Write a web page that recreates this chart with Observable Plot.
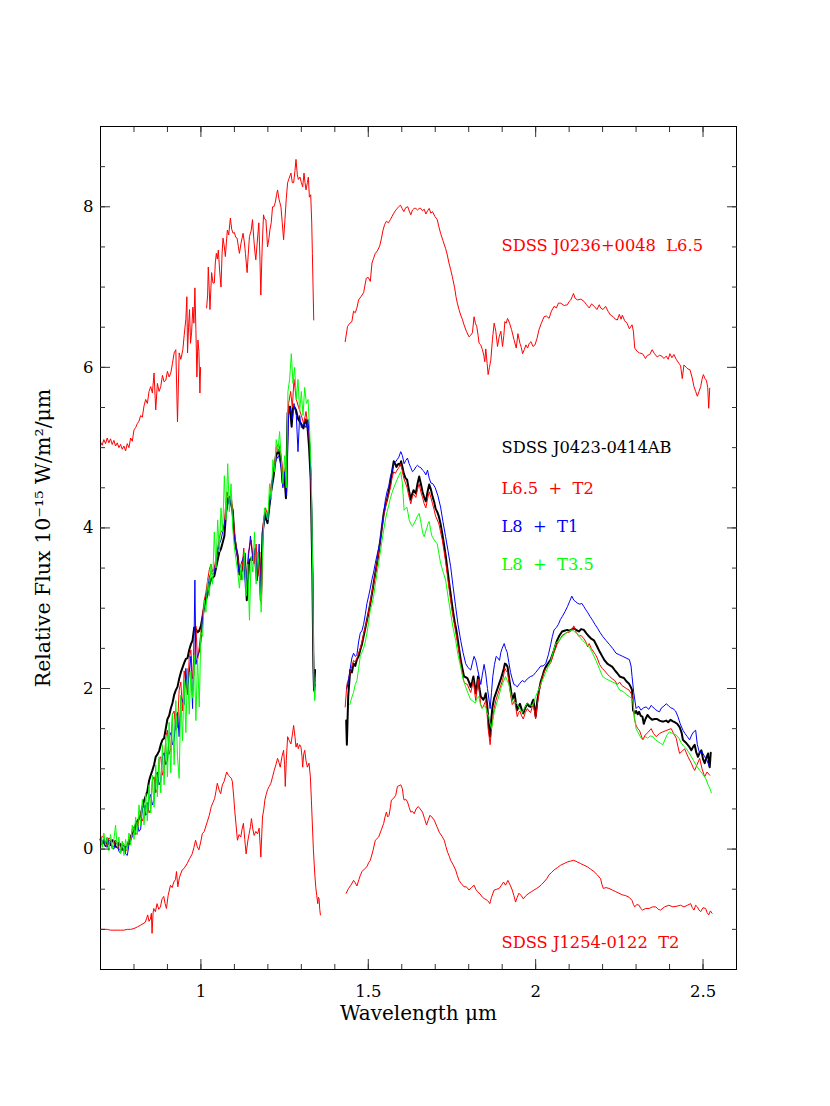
<!DOCTYPE html>
<html>
<head>
<meta charset="utf-8">
<script src="https://cdn.jsdelivr.net/npm/d3@7"></script>
<script src="https://cdn.jsdelivr.net/npm/@observablehq/plot@0.6"></script>
<style>
  html, body { margin: 0; padding: 0; background: #fff; }
  #chart { width: 830px; height: 1106px; }
</style>
</head>
<body>
<div id="chart"></div>
<script>
// ---- tick values ----
const xLabelTicks = [1, 1.5, 2, 2.5];
const xMinorTicks = [0.8, 0.9, 1.0, 1.1, 1.2, 1.3, 1.4, 1.5, 1.6, 1.7, 1.8, 1.9, 2.0, 2.1, 2.2, 2.3, 2.4, 2.5];
const yLabelTicks = [0, 2, 4, 6, 8];
const yMinorTicks = [-1, -0.5, 0, 0.5, 1, 1.5, 2, 2.5, 3, 3.5, 4, 4.5, 5, 5.5, 6, 6.5, 7, 7.5, 8, 8.5];

// ---- SDSS J0236+0048 L6.5 (offset spectrum, top) ----
const j0236_a = [[0.700,5.07],[0.705,5.03],[0.71,5.10],[0.715,5.05],[0.72,5.12],[0.725,5.06],[0.73,5.11],[0.735,5.04],[0.74,5.09],[0.745,5.02],[0.75,5.06],[0.755,5.00],[0.76,5.04],[0.765,4.98],[0.77,5.02],[0.775,4.96],[0.78,5.05],[0.785,5.00],[0.79,5.12],[0.795,5.08],[0.80,5.22],[0.805,5.25],[0.81,5.30],[0.815,5.33],[0.82,5.40],[0.825,5.38],[0.83,5.52],[0.835,5.60],[0.84,5.55],[0.845,5.70],[0.85,5.76],[0.855,5.68],[0.86,5.93],[0.865,5.47],[0.87,5.80],[0.875,5.70],[0.88,5.76],[0.885,5.90],[0.89,5.82],[0.895,5.84],[0.90,5.95],[0.905,5.88],[0.91,5.93],[0.915,6.05],[0.92,6.18],[0.925,6.22],[0.93,5.32],[0.935,6.18],[0.94,6.10],[0.946,6.22],[0.95,6.40],[0.955,6.60],[0.958,6.88],[0.96,6.18],[0.963,6.50],[0.966,6.72],[0.969,6.30],[0.972,6.43],[0.976,6.75],[0.979,6.55],[0.982,6.99],[0.985,6.47],[0.988,5.88],[0.991,6.34],[0.994,6.20],[0.997,5.68],[0.999,6.0]];
const j0236_b = [[1.017,6.74],[1.020,6.90],[1.022,7.25],[1.025,6.95],[1.027,6.72],[1.030,7.00],[1.032,7.18],[1.036,7.05],[1.040,7.05],[1.043,7.30],[1.046,7.42],[1.049,7.35],[1.052,7.46],[1.056,7.20],[1.060,7.00],[1.063,7.40],[1.066,7.61],[1.070,7.50],[1.073,7.38],[1.076,7.55],[1.079,7.71],[1.083,7.65],[1.088,7.86],[1.092,7.72],[1.096,7.67],[1.100,7.68],[1.104,7.62],[1.108,7.61],[1.112,7.50],[1.115,7.42],[1.120,7.55],[1.126,7.67],[1.130,7.55],[1.133,7.42],[1.138,7.18],[1.142,7.45],[1.145,7.63],[1.150,7.70],[1.154,7.84],[1.158,7.60],[1.161,7.45],[1.164,7.34],[1.168,7.55],[1.173,7.80],[1.176,7.40],[1.179,6.90],[1.183,7.50],[1.187,7.90],[1.190,7.85],[1.194,7.84],[1.197,7.65],[1.199,7.50],[1.203,7.60],[1.206,7.71],[1.210,7.80],[1.214,8.00],[1.218,8.00],[1.222,8.05],[1.226,8.15],[1.229,8.21],[1.233,8.10],[1.236,8.05],[1.239,8.00],[1.243,7.80],[1.247,7.59],[1.251,7.84],[1.255,8.10],[1.259,8.30],[1.263,8.35],[1.269,8.42],[1.273,8.30],[1.277,8.30],[1.281,8.45],[1.284,8.59],[1.288,8.40],[1.291,8.34],[1.296,8.37],[1.300,8.30],[1.304,8.25],[1.308,8.42],[1.311,8.30],[1.314,8.21],[1.318,8.30],[1.321,8.37],[1.324,8.12],[1.328,8.15],[1.331,7.80],[1.333,7.42],[1.335,7.00],[1.337,6.59]];
const j0236_c = [[1.431,6.32],[1.438,6.51],[1.445,6.55],[1.451,6.57],[1.456,6.70],[1.461,6.68],[1.466,6.74],[1.471,6.84],[1.478,6.88],[1.486,6.93],[1.494,7.11],[1.500,7.12],[1.506,7.07],[1.511,7.30],[1.516,7.36],[1.521,7.42],[1.527,7.45],[1.534,7.51],[1.539,7.60],[1.544,7.71],[1.549,7.78],[1.554,7.82],[1.560,7.80],[1.566,7.84],[1.571,7.88],[1.576,7.92],[1.581,7.95],[1.586,7.98],[1.591,8.00],[1.596,8.02],[1.601,7.98],[1.606,7.94],[1.612,7.99],[1.618,8.00],[1.622,7.95],[1.627,7.90],[1.632,7.96],[1.637,7.98],[1.642,7.98],[1.647,7.96],[1.652,7.98],[1.657,7.98],[1.662,7.95],[1.667,7.97],[1.672,7.91],[1.677,7.95],[1.682,7.98],[1.687,7.92],[1.692,7.94],[1.699,7.88],[1.706,7.84],[1.711,7.75],[1.716,7.67],[1.723,7.58],[1.731,7.48],[1.736,7.40],[1.741,7.30],[1.746,7.22],[1.751,7.13],[1.758,6.99],[1.762,6.88],[1.766,6.80],[1.771,6.72],[1.776,6.65],[1.781,6.60],[1.786,6.53],[1.793,6.45],[1.801,6.38],[1.806,6.40],[1.811,6.43],[1.816,6.63],[1.820,6.55],[1.824,6.51],[1.828,6.40],[1.831,6.30],[1.836,6.28],[1.841,6.22],[1.845,6.15],[1.848,6.07],[1.851,6.23],[1.855,6.05],[1.858,5.91],[1.862,6.00],[1.866,6.09],[1.871,6.35],[1.876,6.55],[1.881,6.45],[1.886,6.26],[1.891,6.38],[1.896,6.45],[1.901,6.26],[1.905,6.40],[1.908,6.57],[1.912,6.55],[1.916,6.61],[1.922,6.55],[1.928,6.47],[1.935,6.35],[1.942,6.24],[1.947,6.42],[1.953,6.30],[1.957,6.25],[1.961,6.17],[1.966,6.22],[1.971,6.28],[1.976,6.24],[1.981,6.30],[1.986,6.32],[1.992,6.26],[1.998,6.28],[2.004,6.36],[2.010,6.47],[2.017,6.55],[2.025,6.63],[2.032,6.64],[2.040,6.61],[2.047,6.70],[2.055,6.76],[2.062,6.74],[2.068,6.80],[2.075,6.80],[2.085,6.77],[2.095,6.78],[2.100,6.82],[2.105,6.84],[2.109,6.88],[2.113,6.92],[2.118,6.86],[2.125,6.84],[2.135,6.85],[2.145,6.82],[2.152,6.78],[2.160,6.74],[2.167,6.79],[2.175,6.76],[2.183,6.72],[2.190,6.78],[2.194,6.74],[2.201,6.72],[2.209,6.76],[2.216,6.70],[2.224,6.65],[2.232,6.63],[2.238,6.60],[2.244,6.59],[2.250,6.66],[2.255,6.60],[2.259,6.65],[2.266,6.58],[2.273,6.55],[2.280,6.48],[2.288,6.53],[2.292,6.45],[2.296,6.24],[2.303,6.20],[2.310,6.18],[2.319,6.17],[2.324,6.14],[2.328,6.11],[2.334,6.15],[2.341,6.16],[2.348,6.22],[2.355,6.17],[2.363,6.13],[2.370,6.15],[2.377,6.14],[2.383,6.11],[2.390,6.14],[2.396,6.10],[2.401,6.17],[2.407,6.12],[2.413,6.16],[2.420,6.10],[2.428,6.05],[2.433,6.02],[2.438,5.86],[2.443,6.03],[2.450,6.00],[2.455,5.98],[2.461,5.97],[2.467,5.88],[2.473,5.76],[2.478,5.70],[2.483,5.64],[2.488,5.70],[2.493,5.76],[2.497,5.85],[2.501,5.91],[2.506,5.86],[2.510,5.84],[2.514,5.75],[2.517,5.49],[2.520,5.74]];

// ---- SDSS J0423-0414AB (black) ----
const j0423_a = [[0.700,0.12],[0.705,0.06],[0.71,0.10],[0.715,0.04],[0.72,0.13],[0.725,0.07],[0.73,0.05],[0.735,0.11],[0.74,0.10],[0.745,0.03],[0.75,0.02],[0.755,0.08],[0.76,0.05],[0.765,0.00],[0.77,-0.02],[0.775,0.03],[0.78,0.04],[0.785,0.10],[0.79,0.15],[0.795,0.20],[0.80,0.22],[0.805,0.30],[0.81,0.35],[0.815,0.38],[0.82,0.42],[0.825,0.52],[0.83,0.60],[0.835,0.66],[0.84,0.72],[0.845,0.85],[0.85,0.92],[0.855,0.98],[0.86,1.05],[0.865,1.15],[0.87,1.18],[0.875,1.22],[0.88,1.30],[0.885,1.36],[0.89,1.38],[0.895,1.50],[0.90,1.62],[0.905,1.66],[0.91,1.75],[0.915,1.82],[0.92,1.92],[0.925,1.98],[0.93,2.02],[0.935,2.12],[0.94,2.20],[0.945,2.26],[0.95,2.32],[0.955,2.37],[0.96,2.38],[0.965,2.48],[0.97,2.55],[0.975,2.60],[0.98,2.76],[0.985,2.74],[0.99,2.70],[0.995,2.72],[1.00,2.78],[1.005,2.90],[1.01,3.02],[1.015,3.10],[1.02,3.18],[1.025,3.28],[1.03,3.36],[1.035,3.38],[1.04,3.40],[1.045,3.50],[1.05,3.60],[1.055,3.70],[1.06,3.74],[1.065,3.82],[1.07,3.90],[1.075,4.18],[1.081,4.37],[1.085,4.33],[1.09,4.30],[1.095,4.22],[1.10,3.90],[1.105,3.75],[1.11,3.65],[1.115,3.42],[1.12,3.45],[1.124,3.48],[1.131,3.68],[1.137,3.10],[1.144,3.58],[1.149,3.62],[1.154,3.60],[1.161,3.68],[1.167,3.35],[1.174,3.64],[1.179,3.10],[1.184,3.93],[1.191,4.16],[1.199,4.06],[1.204,4.25],[1.209,4.43],[1.217,4.64],[1.224,4.89],[1.231,4.97],[1.239,4.85],[1.244,4.56],[1.249,4.68],[1.254,4.37],[1.259,5.43],[1.266,5.51],[1.271,5.26],[1.275,5.51],[1.280,5.50],[1.284,5.47],[1.291,5.35],[1.299,5.30],[1.306,5.24],[1.313,5.35],[1.318,5.28],[1.323,5.01],[1.328,4.60],[1.333,3.43],[1.336,2.27],[1.338,1.98],[1.341,2.23]];
const j0423_b = [[1.434,1.60],[1.436,1.30],[1.440,1.90],[1.446,2.23],[1.451,2.20],[1.456,2.31],[1.461,2.28],[1.466,2.36],[1.471,2.40],[1.476,2.48],[1.481,2.55],[1.486,2.65],[1.491,2.75],[1.496,2.85],[1.501,2.95],[1.506,3.06],[1.511,3.18],[1.516,3.31],[1.521,3.44],[1.526,3.56],[1.531,3.70],[1.536,3.85],[1.541,4.02],[1.546,4.18],[1.551,4.28],[1.556,4.35],[1.561,4.45],[1.566,4.56],[1.571,4.70],[1.576,4.83],[1.580,4.80],[1.584,4.76],[1.588,4.79],[1.591,4.80],[1.595,4.78],[1.598,4.83],[1.602,4.76],[1.606,4.68],[1.611,4.62],[1.616,4.60],[1.621,4.48],[1.627,4.35],[1.631,4.42],[1.635,4.47],[1.642,4.43],[1.647,4.55],[1.652,4.64],[1.657,4.55],[1.662,4.45],[1.667,4.38],[1.672,4.33],[1.677,4.45],[1.682,4.54],[1.687,4.48],[1.692,4.39],[1.697,4.32],[1.701,4.24],[1.706,4.20],[1.711,4.14],[1.716,4.05],[1.721,3.93],[1.726,3.80],[1.731,3.66],[1.736,3.50],[1.741,3.33],[1.746,3.18],[1.751,3.02],[1.758,2.83],[1.762,2.75],[1.766,2.65],[1.771,2.50],[1.776,2.36],[1.781,2.25],[1.786,2.15],[1.791,2.14],[1.796,2.13],[1.801,2.08],[1.806,2.02],[1.810,2.08],[1.814,2.15],[1.818,2.04],[1.821,1.94],[1.825,2.05],[1.828,2.15],[1.832,2.00],[1.836,1.90],[1.840,1.88],[1.844,1.86],[1.848,1.90],[1.851,1.94],[1.855,1.80],[1.858,1.65],[1.861,1.50],[1.864,1.40],[1.867,1.60],[1.871,1.77],[1.876,1.88],[1.881,1.94],[1.886,2.00],[1.891,2.06],[1.896,2.12],[1.901,2.19],[1.905,2.25],[1.908,2.31],[1.912,2.30],[1.916,2.27],[1.920,2.15],[1.923,2.06],[1.927,1.95],[1.930,1.86],[1.934,1.90],[1.937,1.94],[1.941,1.82],[1.945,1.73],[1.949,1.78],[1.953,1.81],[1.958,1.74],[1.963,1.69],[1.969,1.76],[1.975,1.81],[1.980,1.78],[1.985,1.77],[1.989,1.82],[1.993,1.86],[1.997,1.75],[2.000,1.65],[2.005,1.85],[2.010,1.98],[2.015,2.08],[2.020,2.15],[2.025,2.22],[2.030,2.27],[2.038,2.32],[2.045,2.36],[2.050,2.42],[2.055,2.48],[2.060,2.55],[2.064,2.60],[2.071,2.66],[2.079,2.71],[2.086,2.72],[2.094,2.73],[2.100,2.72],[2.106,2.73],[2.110,2.74],[2.114,2.75],[2.121,2.73],[2.129,2.71],[2.136,2.74],[2.144,2.73],[2.151,2.69],[2.159,2.65],[2.166,2.62],[2.174,2.60],[2.179,2.56],[2.184,2.52],[2.191,2.46],[2.199,2.40],[2.206,2.35],[2.214,2.31],[2.221,2.29],[2.229,2.27],[2.236,2.23],[2.244,2.19],[2.251,2.15],[2.257,2.14],[2.264,2.13],[2.271,2.09],[2.279,2.06],[2.284,2.02],[2.288,1.98],[2.291,1.73],[2.296,1.69],[2.300,1.72],[2.305,1.68],[2.309,1.71],[2.314,1.66],[2.319,1.65],[2.323,1.56],[2.328,1.62],[2.334,1.67],[2.340,1.64],[2.348,1.61],[2.355,1.62],[2.363,1.62],[2.370,1.60],[2.377,1.59],[2.383,1.59],[2.390,1.60],[2.396,1.58],[2.403,1.61],[2.410,1.59],[2.416,1.58],[2.423,1.56],[2.430,1.52],[2.436,1.45],[2.440,1.36],[2.445,1.34],[2.450,1.32],[2.458,1.28],[2.465,1.23],[2.470,1.27],[2.475,1.30],[2.480,1.20],[2.485,1.15],[2.490,1.20],[2.495,1.23],[2.500,1.12],[2.505,1.07],[2.510,1.14],[2.515,1.19],[2.518,1.05],[2.520,1.02],[2.523,1.20]];

// ---- L6.5 + T2 composite (red) ----
const l65t2_a = [[0.700,0.10],[0.705,0.16],[0.71,0.15],[0.715,0.06],[0.72,0.05],[0.725,0.14],[0.73,0.12],[0.735,0.02],[0.74,0.03],[0.745,0.11],[0.75,0.08],[0.755,0.00],[0.76,-0.02],[0.765,0.08],[0.77,0.06],[0.775,-0.03],[0.78,0.00],[0.785,0.14],[0.79,0.12],[0.795,0.25],[0.80,0.28],[0.805,0.18],[0.81,0.20],[0.815,0.40],[0.82,0.45],[0.825,0.35],[0.83,0.40],[0.835,0.55],[0.84,0.58],[0.845,0.45],[0.85,0.50],[0.855,0.85],[0.86,0.90],[0.865,0.70],[0.87,0.75],[0.875,1.12],[0.88,1.15],[0.885,0.92],[0.89,1.00],[0.895,1.40],[0.90,1.48],[0.905,1.18],[0.91,1.25],[0.915,1.68],[0.92,1.72],[0.925,1.48],[0.93,1.52],[0.935,1.98],[0.94,2.08],[0.945,1.72],[0.95,2.22],[0.955,2.08],[0.96,1.92],[0.965,2.38],[0.97,2.48],[0.975,2.12],[0.98,2.18],[0.985,2.78],[0.99,2.35],[0.995,2.52],[1.00,2.70],[1.005,2.92],[1.01,3.10],[1.015,3.20],[1.02,3.35],[1.025,3.48],[1.03,3.55],[1.035,3.45],[1.04,3.50],[1.045,3.62],[1.05,3.75],[1.055,3.88],[1.06,3.95],[1.065,3.98],[1.07,4.05],[1.074,4.30],[1.078,4.45],[1.085,4.30],[1.092,4.35],[1.096,4.15],[1.10,3.95],[1.107,3.70],[1.113,3.55],[1.12,3.35],[1.128,3.75],[1.135,3.30],[1.142,3.70],[1.15,3.85],[1.158,3.55],[1.165,3.80],[1.17,3.40],[1.176,3.70],[1.181,3.05],[1.186,4.05],[1.193,4.25],[1.20,4.15],[1.21,4.55],[1.218,4.70],[1.225,5.00],[1.232,5.05],[1.24,4.90],[1.246,4.60],[1.252,4.75],[1.256,4.45],[1.262,5.55],[1.268,5.70],[1.273,5.50],[1.278,5.85],[1.285,5.60],[1.292,5.50],[1.30,5.40],[1.307,5.30],[1.314,5.45],[1.32,5.25],[1.325,5.05],[1.33,4.40],[1.334,3.30],[1.337,2.20],[1.339,1.95],[1.341,2.10]];
const l65t2_b = [[1.431,1.77],[1.436,2.05],[1.441,2.12],[1.446,2.20],[1.451,2.28],[1.456,2.35],[1.461,2.33],[1.466,2.38],[1.471,2.44],[1.476,2.50],[1.481,2.58],[1.486,2.68],[1.491,2.76],[1.496,2.85],[1.501,2.96],[1.506,3.08],[1.511,3.20],[1.516,3.30],[1.521,3.42],[1.526,3.55],[1.531,3.70],[1.536,3.85],[1.541,4.00],[1.546,4.15],[1.551,4.25],[1.556,4.35],[1.561,4.42],[1.566,4.50],[1.571,4.62],[1.576,4.70],[1.581,4.68],[1.586,4.72],[1.591,4.75],[1.596,4.80],[1.601,4.72],[1.606,4.62],[1.611,4.56],[1.616,4.50],[1.621,4.40],[1.627,4.30],[1.631,4.38],[1.635,4.42],[1.642,4.38],[1.647,4.48],[1.652,4.55],[1.657,4.45],[1.662,4.38],[1.667,4.30],[1.672,4.25],[1.677,4.36],[1.682,4.45],[1.687,4.38],[1.692,4.30],[1.697,4.22],[1.701,4.15],[1.706,4.10],[1.711,4.05],[1.716,3.95],[1.721,3.85],[1.726,3.72],[1.731,3.58],[1.736,3.42],[1.741,3.25],[1.746,3.10],[1.751,2.95],[1.758,2.78],[1.766,2.58],[1.771,2.45],[1.776,2.30],[1.781,2.18],[1.786,2.08],[1.791,2.06],[1.796,2.05],[1.801,2.00],[1.806,1.95],[1.810,2.02],[1.814,2.10],[1.818,1.95],[1.821,1.85],[1.825,2.00],[1.828,2.12],[1.832,1.95],[1.836,1.80],[1.840,1.76],[1.844,1.78],[1.848,1.82],[1.851,1.85],[1.855,1.68],[1.858,1.50],[1.861,1.40],[1.864,1.30],[1.867,1.45],[1.871,1.60],[1.876,1.75],[1.881,1.85],[1.886,1.92],[1.891,1.98],[1.896,2.04],[1.901,2.10],[1.905,2.18],[1.908,2.25],[1.912,2.22],[1.916,2.20],[1.920,2.08],[1.923,1.98],[1.927,1.88],[1.930,1.80],[1.934,1.82],[1.937,1.85],[1.941,1.75],[1.945,1.65],[1.949,1.70],[1.953,1.72],[1.958,1.66],[1.963,1.62],[1.969,1.70],[1.975,1.75],[1.980,1.72],[1.985,1.70],[1.989,1.76],[1.993,1.80],[1.997,1.70],[2.000,1.62],[2.005,1.80],[2.010,1.95],[2.015,2.05],[2.020,2.15],[2.025,2.20],[2.030,2.25],[2.038,2.28],[2.045,2.32],[2.050,2.38],[2.055,2.45],[2.060,2.50],[2.064,2.55],[2.071,2.60],[2.079,2.66],[2.086,2.68],[2.094,2.70],[2.100,2.70],[2.106,2.72],[2.110,2.75],[2.114,2.78],[2.121,2.70],[2.129,2.65],[2.136,2.66],[2.144,2.62],[2.150,2.58],[2.155,2.52],[2.160,2.56],[2.166,2.50],[2.174,2.45],[2.179,2.42],[2.184,2.38],[2.191,2.30],[2.199,2.25],[2.206,2.22],[2.214,2.18],[2.221,2.15],[2.229,2.12],[2.236,2.10],[2.244,2.05],[2.251,2.08],[2.257,2.04],[2.264,2.02],[2.271,2.00],[2.279,1.98],[2.285,1.94],[2.290,1.90],[2.295,1.62],[2.300,1.54],[2.305,1.50],[2.310,1.48],[2.315,1.42],[2.320,1.36],[2.327,1.42],[2.335,1.45],[2.345,1.50],[2.352,1.44],[2.360,1.40],[2.370,1.44],[2.380,1.46],[2.392,1.48],[2.405,1.50],[2.412,1.44],[2.420,1.38],[2.425,1.28],[2.430,1.19],[2.438,1.22],[2.445,1.25],[2.455,1.15],[2.465,1.07],[2.470,1.02],[2.475,0.98],[2.482,1.05],[2.490,1.13],[2.497,1.00],[2.505,0.90],[2.512,0.96],[2.520,0.92]];

// ---- L8 + T1 composite (blue) ----
const l8t1_a = [[0.700,0.05],[0.705,0.10],[0.71,0.12],[0.715,0.04],[0.72,0.02],[0.725,0.11],[0.73,0.10],[0.735,0.01],[0.74,0.00],[0.745,0.08],[0.75,0.06],[0.755,-0.03],[0.76,-0.05],[0.765,0.05],[0.77,0.04],[0.775,-0.06],[0.78,-0.08],[0.785,0.05],[0.79,0.10],[0.795,0.16],[0.80,0.18],[0.805,0.28],[0.81,0.32],[0.815,0.22],[0.82,0.25],[0.825,0.50],[0.83,0.55],[0.835,0.42],[0.84,0.45],[0.845,0.62],[0.85,0.68],[0.855,0.55],[0.86,0.60],[0.865,0.92],[0.87,0.96],[0.875,0.80],[0.88,0.85],[0.885,1.15],[0.89,1.20],[0.895,1.05],[0.90,1.10],[0.905,1.40],[0.91,1.45],[0.915,1.30],[0.92,1.35],[0.925,1.65],[0.93,1.70],[0.935,1.40],[0.94,1.90],[0.945,1.85],[0.95,1.80],[0.955,2.25],[0.96,1.95],[0.965,2.20],[0.97,2.40],[0.975,1.75],[0.98,2.75],[0.982,3.35],[0.985,2.30],[0.99,2.40],[0.995,2.45],[1.00,2.58],[1.005,2.85],[1.01,3.05],[1.015,3.15],[1.02,3.25],[1.025,3.38],[1.03,3.45],[1.035,3.42],[1.04,3.45],[1.045,3.58],[1.05,3.70],[1.055,3.80],[1.06,3.85],[1.065,3.95],[1.07,4.05],[1.078,4.25],[1.086,4.40],[1.093,4.20],[1.10,3.85],[1.107,3.72],[1.113,3.45],[1.12,3.55],[1.128,3.65],[1.133,3.25],[1.14,3.55],[1.148,3.90],[1.155,3.60],[1.162,3.75],[1.168,3.40],[1.174,3.80],[1.179,3.15],[1.185,3.95],[1.192,4.20],[1.20,4.10],[1.21,4.45],[1.218,4.75],[1.225,4.85],[1.232,4.90],[1.24,4.75],[1.245,4.50],[1.25,4.70],[1.256,4.40],[1.262,5.40],[1.268,5.50],[1.273,5.35],[1.278,5.55],[1.285,5.40],[1.29,4.95],[1.295,5.40],[1.30,5.25],[1.307,5.30],[1.314,5.25],[1.32,5.35],[1.325,5.05],[1.33,4.50],[1.334,3.40],[1.337,2.20],[1.339,1.95],[1.341,2.05]];
const l8t1_b = [[1.436,2.00],[1.441,2.10],[1.446,2.25],[1.451,2.38],[1.456,2.44],[1.461,2.40],[1.466,2.42],[1.471,2.58],[1.476,2.69],[1.481,2.72],[1.486,2.80],[1.491,2.92],[1.496,3.06],[1.501,3.15],[1.506,3.25],[1.511,3.36],[1.516,3.45],[1.521,3.56],[1.526,3.66],[1.531,3.75],[1.536,3.85],[1.541,4.02],[1.546,4.18],[1.551,4.35],[1.556,4.45],[1.561,4.52],[1.566,4.64],[1.571,4.70],[1.576,4.80],[1.581,4.82],[1.586,4.85],[1.591,4.88],[1.597,4.95],[1.602,4.90],[1.607,4.80],[1.612,4.84],[1.617,4.87],[1.622,4.80],[1.627,4.75],[1.632,4.70],[1.637,4.72],[1.642,4.76],[1.647,4.78],[1.652,4.76],[1.657,4.75],[1.662,4.72],[1.667,4.70],[1.672,4.66],[1.677,4.72],[1.682,4.62],[1.687,4.56],[1.693,4.55],[1.700,4.50],[1.708,4.40],[1.716,4.26],[1.723,4.08],[1.731,3.89],[1.738,3.72],[1.746,3.52],[1.753,3.28],[1.761,3.02],[1.768,2.80],[1.776,2.60],[1.783,2.45],[1.791,2.31],[1.798,2.26],[1.806,2.23],[1.811,2.32],[1.816,2.40],[1.821,2.35],[1.826,2.25],[1.831,2.15],[1.836,2.05],[1.841,2.18],[1.846,2.30],[1.851,2.18],[1.856,2.00],[1.860,1.88],[1.864,1.75],[1.868,1.95],[1.872,2.15],[1.877,2.30],[1.882,2.40],[1.887,2.38],[1.892,2.35],[1.896,2.45],[1.900,2.50],[1.906,2.56],[1.910,2.50],[1.915,2.45],[1.920,2.32],[1.925,2.20],[1.930,2.12],[1.935,2.05],[1.940,2.04],[1.945,2.02],[1.952,2.06],[1.960,2.10],[1.967,2.08],[1.975,2.12],[1.985,2.15],[1.992,2.16],[2.000,2.20],[2.008,2.24],[2.015,2.28],[2.022,2.28],[2.030,2.31],[2.038,2.42],[2.045,2.55],[2.050,2.65],[2.055,2.73],[2.062,2.76],[2.068,2.80],[2.074,2.86],[2.080,2.90],[2.088,2.96],[2.095,3.02],[2.101,3.08],[2.108,3.15],[2.114,3.10],[2.120,3.08],[2.126,3.06],[2.132,3.05],[2.138,3.06],[2.144,3.02],[2.150,2.98],[2.155,2.95],[2.162,2.90],[2.170,2.85],[2.177,2.80],[2.185,2.75],[2.192,2.70],[2.200,2.65],[2.210,2.60],[2.220,2.55],[2.230,2.50],[2.240,2.44],[2.250,2.42],[2.260,2.40],[2.270,2.38],[2.280,2.36],[2.285,2.28],[2.288,2.15],[2.293,1.95],[2.300,1.75],[2.307,1.78],[2.315,1.73],[2.322,1.76],[2.330,1.77],[2.338,1.74],[2.345,1.79],[2.350,1.77],[2.357,1.74],[2.364,1.72],[2.370,1.71],[2.376,1.76],[2.383,1.78],[2.390,1.81],[2.396,1.79],[2.403,1.76],[2.410,1.75],[2.418,1.72],[2.425,1.65],[2.432,1.56],[2.440,1.48],[2.446,1.44],[2.453,1.40],[2.460,1.36],[2.466,1.42],[2.472,1.46],[2.478,1.48],[2.483,1.30],[2.490,1.19],[2.496,1.22],[2.505,1.15],[2.512,1.10],[2.520,1.02]];

// ---- L8 + T3.5 composite (green) ----
const l8t35_a = [[0.700,0.18],[0.705,0.02],[0.71,0.20],[0.715,0.05],[0.72,0.15],[0.725,-0.02],[0.73,0.18],[0.735,0.00],[0.74,0.12],[0.745,0.30],[0.75,0.02],[0.755,0.15],[0.76,-0.05],[0.765,0.10],[0.77,-0.08],[0.775,0.12],[0.78,-0.02],[0.785,0.20],[0.79,0.05],[0.795,0.30],[0.80,0.12],[0.805,0.40],[0.81,0.18],[0.815,0.55],[0.82,0.30],[0.825,0.62],[0.83,0.30],[0.835,0.70],[0.84,0.35],[0.845,0.80],[0.85,0.45],[0.855,0.92],[0.86,0.52],[0.865,1.05],[0.87,0.65],[0.875,1.15],[0.88,0.70],[0.885,1.30],[0.89,0.80],[0.895,1.42],[0.90,0.90],[0.905,1.58],[0.91,0.95],[0.915,1.68],[0.92,1.05],[0.925,1.85],[0.93,1.15],[0.935,0.88],[0.94,1.92],[0.945,1.35],[0.95,2.10],[0.955,1.45],[0.96,2.25],[0.965,1.68],[0.97,2.22],[0.975,1.88],[0.98,2.42],[0.985,1.60],[0.99,2.38],[0.995,1.77],[1.00,2.70],[1.005,2.65],[1.01,3.10],[1.015,2.95],[1.02,3.35],[1.025,3.15],[1.03,3.55],[1.035,3.30],[1.04,3.95],[1.045,3.50],[1.05,4.10],[1.055,3.70],[1.06,4.25],[1.065,3.95],[1.07,4.65],[1.075,4.10],[1.08,4.80],[1.085,4.20],[1.09,4.55],[1.095,4.00],[1.10,3.75],[1.105,3.60],[1.11,3.45],[1.115,3.25],[1.12,3.55],[1.125,3.35],[1.13,3.70],[1.135,3.15],[1.14,3.55],[1.145,2.85],[1.15,3.65],[1.155,3.45],[1.16,3.95],[1.165,3.30],[1.17,3.70],[1.175,3.45],[1.18,2.95],[1.185,3.85],[1.19,4.25],[1.20,4.10],[1.205,4.55],[1.21,4.35],[1.215,4.85],[1.22,4.70],[1.225,5.10],[1.23,4.95],[1.235,5.20],[1.24,4.85],[1.245,4.55],[1.25,4.90],[1.255,4.50],[1.26,5.70],[1.265,5.85],[1.27,6.17],[1.275,5.80],[1.28,6.00],[1.285,5.60],[1.29,5.85],[1.295,5.45],[1.30,5.70],[1.305,5.40],[1.31,5.75],[1.315,5.55],[1.32,5.60],[1.325,5.20],[1.33,4.60],[1.334,3.40],[1.337,2.20],[1.34,1.85],[1.342,2.00]];
const l8t35_b = [[1.445,1.80],[1.450,1.88],[1.456,1.95],[1.461,2.05],[1.466,2.10],[1.471,2.25],[1.476,2.40],[1.481,2.45],[1.486,2.50],[1.491,2.58],[1.496,2.69],[1.501,2.82],[1.506,2.98],[1.511,3.05],[1.516,3.15],[1.521,3.30],[1.526,3.43],[1.531,3.56],[1.536,3.70],[1.541,3.84],[1.546,3.97],[1.551,4.10],[1.556,4.20],[1.561,4.28],[1.566,4.37],[1.571,4.44],[1.576,4.50],[1.581,4.55],[1.586,4.60],[1.591,4.65],[1.597,4.70],[1.602,4.55],[1.607,4.22],[1.611,4.24],[1.615,4.26],[1.619,4.18],[1.622,4.10],[1.627,4.05],[1.632,4.02],[1.637,4.06],[1.642,4.10],[1.647,4.15],[1.652,4.18],[1.656,4.10],[1.660,4.00],[1.664,3.92],[1.667,3.89],[1.671,3.95],[1.675,4.00],[1.679,4.06],[1.682,4.08],[1.686,3.98],[1.690,3.90],[1.697,3.85],[1.706,3.80],[1.711,3.68],[1.716,3.56],[1.723,3.46],[1.731,3.35],[1.738,3.15],[1.746,2.94],[1.753,2.76],[1.761,2.60],[1.768,2.42],[1.776,2.27],[1.783,2.12],[1.791,2.02],[1.798,1.94],[1.806,1.86],[1.813,1.84],[1.820,1.82],[1.825,1.88],[1.830,1.90],[1.835,1.80],[1.840,1.75],[1.845,1.78],[1.850,1.78],[1.855,1.70],[1.860,1.65],[1.864,1.56],[1.868,1.50],[1.872,1.60],[1.876,1.70],[1.881,1.78],[1.886,1.85],[1.891,1.92],[1.896,2.00],[1.903,2.08],[1.910,2.15],[1.915,2.10],[1.920,2.05],[1.925,1.95],[1.930,1.85],[1.937,1.83],[1.945,1.81],[1.952,1.75],[1.960,1.70],[1.967,1.76],[1.975,1.82],[1.982,1.80],[1.990,1.78],[1.995,1.84],[2.000,1.90],[2.008,1.98],[2.015,2.05],[2.022,2.12],[2.030,2.20],[2.038,2.28],[2.045,2.35],[2.052,2.45],[2.060,2.56],[2.070,2.60],[2.080,2.65],[2.088,2.68],[2.095,2.70],[2.103,2.72],[2.110,2.73],[2.118,2.70],[2.125,2.68],[2.132,2.64],[2.140,2.60],[2.150,2.56],[2.160,2.52],[2.170,2.44],[2.180,2.35],[2.190,2.25],[2.200,2.15],[2.210,2.12],[2.220,2.10],[2.230,2.08],[2.240,2.06],[2.251,1.98],[2.258,1.97],[2.265,1.95],[2.272,1.92],[2.280,1.90],[2.286,1.88],[2.290,1.86],[2.295,1.65],[2.300,1.50],[2.305,1.46],[2.310,1.42],[2.315,1.38],[2.320,1.36],[2.328,1.40],[2.335,1.38],[2.342,1.41],[2.350,1.40],[2.358,1.36],[2.365,1.34],[2.372,1.32],[2.380,1.30],[2.386,1.36],[2.392,1.42],[2.400,1.46],[2.408,1.44],[2.415,1.43],[2.420,1.42],[2.428,1.38],[2.435,1.32],[2.443,1.28],[2.450,1.25],[2.458,1.20],[2.465,1.15],[2.472,1.10],[2.480,1.04],[2.490,0.98],[2.498,0.94],[2.505,0.90],[2.510,0.86],[2.515,0.80],[2.520,0.76],[2.525,0.70]];

// ---- SDSS J1254-0122 T2 (offset spectrum, bottom) ----
const j1254_a = [[0.700,-1.00],[0.71,-1.00],[0.72,-1.00],[0.73,-1.01],[0.74,-1.01],[0.75,-1.01],[0.76,-1.01],[0.77,-1.01],[0.78,-1.00],[0.79,-1.00],[0.80,-0.99],[0.81,-0.97],[0.819,-0.95],[0.827,-0.93],[0.834,-0.91],[0.838,-0.86],[0.841,-0.82],[0.845,-0.90],[0.849,-0.87],[0.852,-0.80],[0.854,-1.05],[0.857,-0.80],[0.859,-0.74],[0.864,-0.78],[0.869,-0.68],[0.874,-0.75],[0.879,-0.72],[0.884,-0.62],[0.889,-0.59],[0.893,-0.68],[0.897,-0.74],[0.902,-0.58],[0.909,-0.45],[0.914,-0.48],[0.919,-0.41],[0.924,-0.38],[0.927,-0.28],[0.931,-0.47],[0.936,-0.35],[0.944,-0.26],[0.95,-0.24],[0.959,-0.18],[0.966,-0.12],[0.974,-0.06],[0.979,0.02],[0.984,0.11],[0.989,0.03],[0.994,-0.01],[1.000,0.10],[1.004,0.19],[1.01,0.22],[1.019,0.34],[1.025,0.42],[1.031,0.53],[1.036,0.58],[1.041,0.63],[1.045,0.72],[1.049,0.82],[1.054,0.74],[1.059,0.69],[1.064,0.80],[1.069,0.84],[1.073,0.90],[1.077,0.96],[1.082,0.92],[1.087,0.90],[1.091,0.88],[1.094,0.84],[1.098,0.65],[1.101,0.48],[1.105,0.30],[1.109,0.11],[1.114,0.18],[1.119,0.15],[1.123,0.25],[1.127,0.32],[1.131,0.12],[1.135,-0.06],[1.14,0.10],[1.144,0.19],[1.148,0.28],[1.151,0.38],[1.155,0.25],[1.159,0.17],[1.164,0.22],[1.169,0.19],[1.174,0.26],[1.177,0.05],[1.179,-0.10],[1.182,0.20],[1.184,0.40],[1.188,0.50],[1.191,0.61],[1.195,0.68],[1.199,0.74],[1.204,0.78],[1.209,0.82],[1.214,0.90],[1.219,0.98],[1.224,1.05],[1.229,1.13],[1.233,1.08],[1.237,1.02],[1.242,1.15],[1.247,1.23],[1.250,1.05],[1.252,0.78],[1.255,1.10],[1.259,1.40],[1.264,1.35],[1.269,1.31],[1.273,1.42],[1.277,1.54],[1.281,1.40],[1.284,1.27],[1.288,1.32],[1.291,1.25],[1.295,1.30],[1.299,1.27],[1.302,1.15],[1.304,1.02],[1.307,1.18],[1.310,1.23],[1.314,1.10],[1.318,1.02],[1.323,1.07],[1.327,0.90],[1.330,0.61],[1.333,0.30],[1.336,-0.01],[1.340,-0.30],[1.343,-0.47],[1.346,-0.58],[1.349,-0.68],[1.351,-0.60],[1.353,-0.62],[1.355,-0.75],[1.357,-0.82]];
const j1254_b = [[1.434,-0.55],[1.441,-0.49],[1.448,-0.45],[1.456,-0.39],[1.461,-0.42],[1.466,-0.46],[1.472,-0.38],[1.476,-0.33],[1.481,-0.28],[1.488,-0.25],[1.496,-0.22],[1.501,-0.17],[1.506,-0.14],[1.514,-0.02],[1.521,0.11],[1.526,0.13],[1.531,0.15],[1.539,0.24],[1.546,0.32],[1.550,0.40],[1.554,0.46],[1.558,0.40],[1.562,0.42],[1.566,0.52],[1.569,0.61],[1.575,0.63],[1.582,0.67],[1.587,0.78],[1.592,0.79],[1.597,0.80],[1.602,0.75],[1.605,0.65],[1.607,0.61],[1.612,0.62],[1.617,0.59],[1.622,0.52],[1.627,0.46],[1.632,0.47],[1.637,0.44],[1.643,0.50],[1.649,0.53],[1.655,0.50],[1.662,0.46],[1.668,0.38],[1.674,0.30],[1.679,0.36],[1.684,0.42],[1.690,0.40],[1.697,0.36],[1.705,0.28],[1.712,0.21],[1.720,0.16],[1.727,0.11],[1.732,0.03],[1.737,-0.04],[1.742,-0.09],[1.746,-0.14],[1.754,-0.20],[1.761,-0.26],[1.766,-0.33],[1.771,-0.39],[1.778,-0.43],[1.786,-0.47],[1.793,-0.47],[1.801,-0.51],[1.808,-0.48],[1.816,-0.45],[1.821,-0.50],[1.826,-0.53],[1.834,-0.56],[1.841,-0.60],[1.848,-0.62],[1.856,-0.64],[1.860,-0.66],[1.863,-0.68],[1.868,-0.60],[1.876,-0.51],[1.884,-0.50],[1.891,-0.49],[1.898,-0.45],[1.904,-0.41],[1.910,-0.45],[1.917,-0.39],[1.924,-0.45],[1.930,-0.51],[1.935,-0.58],[1.940,-0.66],[1.945,-0.60],[1.950,-0.55],[1.957,-0.58],[1.963,-0.62],[1.971,-0.58],[1.980,-0.55],[1.988,-0.53],[1.995,-0.51],[2.003,-0.49],[2.010,-0.47],[2.018,-0.44],[2.025,-0.41],[2.033,-0.37],[2.040,-0.32],[2.048,-0.29],[2.055,-0.26],[2.065,-0.23],[2.075,-0.20],[2.085,-0.18],[2.095,-0.16],[2.104,-0.15],[2.114,-0.14],[2.124,-0.16],[2.134,-0.18],[2.144,-0.20],[2.154,-0.22],[2.164,-0.25],[2.174,-0.28],[2.184,-0.32],[2.194,-0.37],[2.198,-0.44],[2.202,-0.49],[2.210,-0.48],[2.219,-0.49],[2.229,-0.51],[2.239,-0.53],[2.249,-0.55],[2.259,-0.57],[2.269,-0.58],[2.279,-0.60],[2.288,-0.64],[2.292,-0.69],[2.296,-0.72],[2.302,-0.69],[2.309,-0.70],[2.314,-0.74],[2.319,-0.76],[2.329,-0.74],[2.339,-0.74],[2.349,-0.72],[2.359,-0.72],[2.366,-0.75],[2.373,-0.76],[2.385,-0.72],[2.398,-0.70],[2.410,-0.72],[2.423,-0.71],[2.433,-0.70],[2.443,-0.72],[2.453,-0.70],[2.463,-0.68],[2.468,-0.73],[2.473,-0.76],[2.478,-0.70],[2.483,-0.72],[2.488,-0.76],[2.493,-0.78],[2.500,-0.73],[2.508,-0.74],[2.512,-0.79],[2.517,-0.82],[2.522,-0.77],[2.527,-0.80]];

// ---- annotations ----
const labelText = ["SDSS J0236+0048  L6.5", "SDSS J0423-0414AB", "L6.5  +  T2", "L8  +  T1", "L8  +  T3.5", "SDSS J1254-0122  T2"];
const labelX = [1.898, 1.898, 1.898, 1.898, 1.898, 1.898];
const labelY = [7.51, 5.0, 4.49, 4.01, 3.54, -1.17];
const labelColor = ["#ff0000", "#000000", "#ff0000", "#0000ff", "#00ff00", "#ff0000"];
const labels = labelText.map((t, i) => ({text: t, x: labelX[i], y: labelY[i], color: labelColor[i]}));

const FONT = "DejaVu Serif";
const line = (data, stroke, strokeWidth) =>
  Plot.line(data, {x: d => d[0], y: d => d[1], stroke, strokeWidth, strokeLinejoin: "round", curve: "linear"});

const chart = Plot.plot({
  width: 830,
  height: 1106,
  marginLeft: 100,
  marginRight: 94,
  marginTop: 126,
  marginBottom: 137,
  style: {fontFamily: FONT, fontSize: "16px", background: "#ffffff", color: "#000000"},
  x: {domain: [0.7, 2.6], axis: null},
  y: {domain: [-1.5, 9], axis: null},
  marks: [
    // spectra
    line(j0236_a, "#ff0000", 1),
    line(j0236_b, "#ff0000", 1),
    line(j0236_c, "#ff0000", 1),
    line(j0423_a, "#000000", 2),
    line(j0423_b, "#000000", 2),
    line(l65t2_a, "#ff0000", 1),
    line(l65t2_b, "#ff0000", 1),
    line(l8t1_a, "#0000ff", 1),
    line(l8t1_b, "#0000ff", 1),
    line(l8t35_a, "#00ff00", 1),
    line(l8t35_b, "#00ff00", 1),
    line(j1254_a, "#ff0000", 1),
    line(j1254_b, "#ff0000", 1),
    // labels
    Plot.text(labels, {x: "x", y: "y", text: "text", fill: "color", textAnchor: "start", fontSize: 16.3, fontFamily: FONT}),
    // frame
    Plot.frame({stroke: "#000000", strokeWidth: 1}),
    // inward minor ticks
    Plot.axisX(xMinorTicks, {anchor: "bottom", tickSize: 5, dy: -5, tickFormat: () => "", label: null, stroke: "#333"}),
    Plot.axisX(xMinorTicks, {anchor: "top", tickSize: 5, dy: 5, tickFormat: () => "", label: null, stroke: "#333"}),
    Plot.axisY(yMinorTicks, {anchor: "left", tickSize: 5, dx: 5, tickFormat: () => "", label: null, stroke: "#333"}),
    Plot.axisY(yMinorTicks, {anchor: "right", tickSize: 5, dx: -5, tickFormat: () => "", label: null, stroke: "#333"}),
    // inward major ticks
    Plot.axisX(xLabelTicks, {anchor: "bottom", tickSize: 10, dy: -10, tickFormat: () => "", label: null, stroke: "#333"}),
    Plot.axisX(xLabelTicks, {anchor: "top", tickSize: 10, dy: 10, tickFormat: () => "", label: null, stroke: "#333"}),
    Plot.axisY(yLabelTicks, {anchor: "left", tickSize: 10, dx: 10, tickFormat: () => "", label: null, stroke: "#333"}),
    Plot.axisY(yLabelTicks, {anchor: "right", tickSize: 10, dx: -10, tickFormat: () => "", label: null, stroke: "#333"}),
    // tick labels
    Plot.axisX(xLabelTicks, {anchor: "bottom", tickSize: 0, tickPadding: 16, tickFormat: d => String(d), label: null, fontSize: 16.5, fontFamily: FONT}),
    Plot.axisY(yLabelTicks, {anchor: "left", tickSize: 0, tickPadding: 7, tickFormat: d => String(d), label: null, fontSize: 16.5, fontFamily: FONT}),
    // axis titles
    Plot.text(["Wavelength μm"], {frameAnchor: "bottom", dy: 50, textAnchor: "middle", text: d => d, fontSize: 20, fontFamily: FONT}),
    Plot.text(["Relative Flux 10⁻¹⁵ W/m²/μm"], {frameAnchor: "left", dx: -57, dy: -10, rotate: -90, textAnchor: "middle", text: d => d, fontSize: 20.5, fontFamily: FONT})
  ]
});
document.getElementById("chart").appendChild(chart);
</script>
</body>
</html>
